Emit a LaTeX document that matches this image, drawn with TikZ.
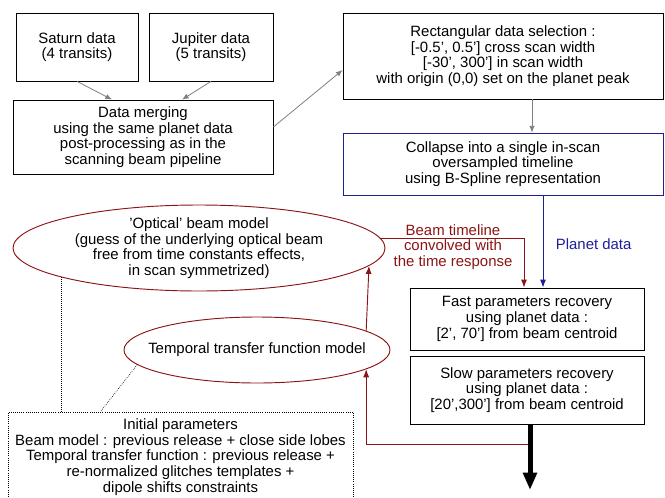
\documentclass[tikz,border=0pt]{standalone}
\usepackage{fontspec}
\setmainfont{Liberation Sans}
\usetikzlibrary{shapes.geometric,arrows.meta,calc}
\definecolor{beamred}{RGB}{140,20,20}
\definecolor{planetblue}{RGB}{30,30,150}

\begin{document}
\begin{tikzpicture}[x=0.75pt,y=-0.75pt,
    font=\fontsize{11.2}{11.7}\selectfont,
    box/.style={draw, rectangle, align=center, inner sep=0pt, line width=0.6pt},
    oval/.style={draw=beamred, ellipse, align=center, inner sep=0pt, line width=0.7pt},
    grayarrow/.style={draw=gray, line width=0.6pt, -{Latex[length=5pt,width=4pt]}},
    redarrow/.style={draw=beamred, line width=0.7pt, -{Latex[length=6pt,width=4.5pt]}},
    bluearrow/.style={draw=planetblue, line width=0.7pt, -{Latex[length=6pt,width=4.5pt]}},
    dotline/.style={densely dotted, line width=0.5pt}]
    \useasboundingbox (0,0) rectangle (665,497);

    \node[box, minimum width=91.5pt, minimum height=51pt] (sat) at (77,47) {Saturn data\\(4 transits)};
    \node[box, minimum width=93pt, minimum height=51pt] (jup) at (211,47) {Jupiter data\\(5 transits)};
    \node[box, minimum width=195pt, minimum height=55.5pt] (merge) at (143,137) {Data merging\\using the same planet data\\post-processing as in the\\scanning beam pipeline};
    \node[box, minimum width=240pt, minimum height=64.5pt] (sel) at (503,56) {Rectangular data selection :\\{}[-0.5', 0.5'] cross scan width\\{}[-30', 300'] in scan width\\with origin (0,0) set on the planet peak};
    \node[box, draw=planetblue, minimum width=240pt, minimum height=46.5pt] (coll) at (503,164) {Collapse into a single in-scan\\oversampled timeline\\using B-Spline representation};
    \node[box, minimum width=175.5pt, minimum height=46.5pt] (fast) at (527,319) {Fast parameters recovery\\using planet data :\\{}[2', 70'] from beam centroid};
    \node[box, minimum width=175.5pt, minimum height=51pt] (slow) at (527,390) {Slow parameters recovery\\using planet data :\\{}[20',300'] from beam centroid};
    \node[oval, inner xsep=-20pt, inner ysep=-4pt, minimum width=279pt, minimum height=64.5pt] (optical) at (199,248) {'Optical' beam model\\(guess of the underlying optical beam\\free from time constants effects,\\in scan symmetrized)};
    \node[oval, inner xsep=-16pt, minimum width=199.5pt, minimum height=49.5pt] (temporal) at (257,350) {Temporal transfer function model};
    \node[box, dotline, minimum width=258.75pt, minimum height=67.5pt] (init) at (180.5,457) {Initial parameters\\Beam model : previous release + close side lobes\\Temporal transfer function : previous release +\\re-normalized glitches templates +\\dipole shifts constraints};
    \node[text=beamred, align=center] (conv) at (453,247) {Beam timeline\\convolved with\\the time response};
    \coordinate (split) at (530,444);
    \coordinate (outend) at (530,490);

    \draw[grayarrow] (sat.south) -- ($(merge.north)+(-31,0)$);
    \draw[grayarrow] (jup.south) -- ($(merge.north)+(39,0)$);
    \draw[grayarrow] ($(merge.east)+(0,-10)$) -- ($(sel.west)+(0,14)$);
    \draw[grayarrow] ($(sel.south)+(29,0)$) -- ($(coll.north)+(29,0)$);
    \draw[bluearrow] ($(coll.south)+(40,0)$) -- node[right, text=planetblue, xshift=6pt, yshift=-2pt] {Planet data} ($(fast.north)+(16,0)$);
    \draw[redarrow] (optical.3.5) -| ($(fast.north)+(-3,0)$);
    \draw[redarrow] (split) -| (temporal.-10);
    \draw[redarrow] (temporal.10) -- (optical.-6.7);
    \draw[line width=3.75pt, -{Triangle[width=10pt,length=13pt]}] ($(slow.south)+(3,0)$) -- (outend);
    \draw[dotline] (optical.192.2) -- (init.north -| optical.192.2);
    \draw[dotline] (temporal.187) -- ($(init.north)+(-80,0)$);
\end{tikzpicture}
\end{document}
